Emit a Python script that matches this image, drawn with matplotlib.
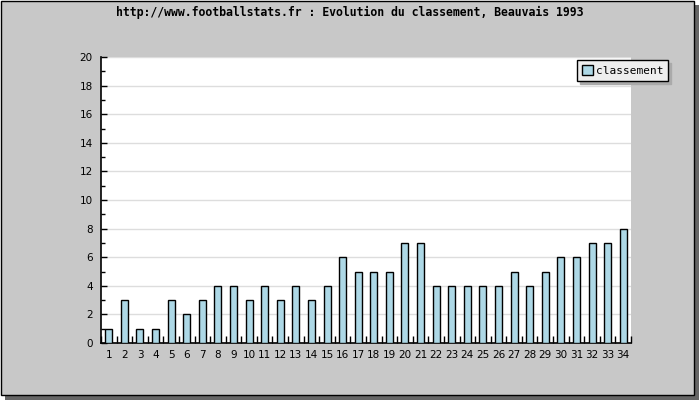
import matplotlib
matplotlib.use("Agg")
import matplotlib.pyplot as plt
from matplotlib.patches import Rectangle
from matplotlib.ticker import MultipleLocator, FixedLocator
import numpy as np

title = "http://www.footballstats.fr : Evolution du classement, Beauvais 1993"
journees = [str(i) for i in range(1, 35)]
classement = [1, 3, 1, 1, 3, 2, 3, 4, 4, 3, 4, 3, 4, 3, 4, 6, 5, 5, 5, 7,
              7, 4, 4, 4, 4, 4, 5, 4, 5, 6, 6, 7, 7, 8]
legend_label = "classement"

W, H = 700, 400
fig = plt.figure(figsize=(7, 4), dpi=100, facecolor="white")

def fx(px):
    return px / W

def fy(py):
    return 1 - py / H

# shadow and panel
fig.patches.append(Rectangle((fx(5), fy(400)), fx(694), 395 / H,
                             transform=fig.transFigure, facecolor="#666666",
                             edgecolor="none", zorder=-2))
fig.patches.append(Rectangle((fx(0.5), fy(394.5)), fx(693), 394 / H,
                             transform=fig.transFigure, facecolor="#c8c8c8",
                             edgecolor="black", linewidth=1, zorder=-1))

ax = fig.add_axes([fx(101), fy(343), fx(631 - 101), (343 - 57) / H])
ax.set_facecolor("white")
x = np.arange(len(journees))
ax.bar(x, classement, width=0.45, color="#add8e6", edgecolor="black",
       linewidth=1, label=legend_label, zorder=3)
ax.set_xlim(-0.5, len(journees) - 0.5)
ax.set_ylim(0, 20)
ax.yaxis.set_major_locator(MultipleLocator(2))
ax.yaxis.set_minor_locator(MultipleLocator(1))
ax.grid(axis="y", which="major", color="#dddddd", linewidth=1, zorder=0)
ax.set_xticks(x)
ax.set_xticklabels(journees)
ax.xaxis.set_minor_locator(FixedLocator(np.arange(-0.5, len(journees), 1)))
ax.tick_params(axis="x", which="major", length=0, pad=5, labelsize=7.5)
ax.tick_params(axis="x", which="minor", direction="in", length=5, width=1)
ax.tick_params(axis="y", which="major", direction="in", length=4, width=1,
               labelsize=7.5, pad=6)
ax.tick_params(axis="y", which="minor", direction="in", length=3, width=1)
for s in ["top", "right"]:
    ax.spines[s].set_visible(False)
for s in ["left", "bottom"]:
    ax.spines[s].set_linewidth(1.2)

fig.text(0.5, fy(12), title, ha="center", va="center",
         fontsize=8.3, fontweight="bold", family="DejaVu Sans Mono")

leg = fig.legend(loc="upper left", bbox_to_anchor=(fx(577), fy(60)),
                 bbox_transform=fig.transFigure, frameon=True, fancybox=False,
                 shadow={"color": "#aaaaaa", "alpha": 1},
                 handlelength=1.0, handleheight=1.0, handletextpad=0.25,
                 borderpad=0.45, borderaxespad=0,
                 prop={"family": "DejaVu Sans Mono", "size": 8})
leg.get_frame().set_facecolor("#eeeeee")
leg.get_frame().set_edgecolor("black")
leg.get_frame().set_linewidth(1)
leg.get_frame().set_alpha(1)

fig.savefig("out.png", dpi=100, facecolor="white")
